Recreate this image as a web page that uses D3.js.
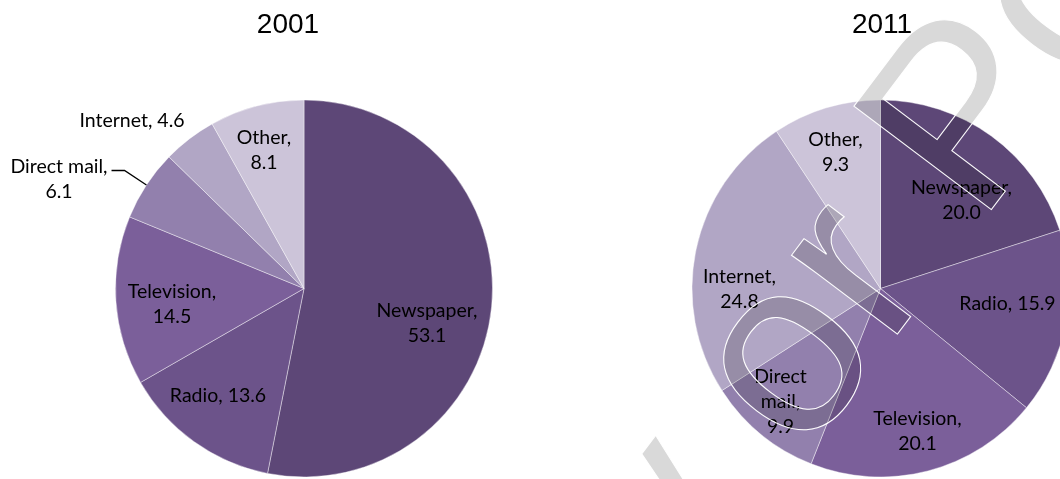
<!DOCTYPE html>
<html>
<head>
<meta charset="utf-8">
<script src="https://cdn.jsdelivr.net/npm/d3@7"></script>
<style>
body { margin: 0; background: #fff; }
svg { display: block; }
.title { font-family: "Liberation Sans", Arial, sans-serif; font-size: 28px; fill: #000; }
.label { font-family: Lato, "Open Sans", sans-serif; font-size: 19.5px; fill: #000; }
.wm { font-family: "Liberation Sans", Arial, sans-serif; font-size: 250px; }
</style>
</head>
<body>
<svg id="chart"></svg>
<script>
var width = 1060;
var height = 479;

// Data
var years = ["2001", "2011"];
var categories = ["Newspaper", "Radio", "Television", "Direct mail", "Internet", "Other"];
var values2001 = [53.1, 13.6, 14.5, 6.1, 4.6, 8.1];
var values2011 = [20.0, 15.9, 20.1, 9.9, 24.8, 9.3];

var colors = ["#5d4777", "#6c538a", "#7b5f9a", "#9280ad", "#b1a6c5", "#ccc4d9"];

// Label layout: number of lines and offset from pie centre
var lines2001 = [2, 1, 2, 2, 1, 2];
var lines2011 = [2, 1, 2, 3, 2, 2];
var offsets2001 = [[123, 34], [-86, 107], [-132, 15], [-245, -110], [-172, -168], [-40, -139]];
var offsets2011 = [[81, -89], [127, 15], [37, 142], [-100, 113], [-141, 0], [-45, -137]];
var leader2001 = [false, false, false, true, false, false];

var RADIUS = 188.5;
var CENTER_Y = 288.5;
var CENTERS_X = [304, 880.5];
var TITLE_X = [288, 882];
var LINE_H = 25;

var svg = d3.select("#chart")
    .attr("width", width)
    .attr("height", height);

var pie = d3.pie().sort(null).value(function(d) { return d; });
var arc = d3.arc().innerRadius(0).outerRadius(RADIUS);
var edgeArc = d3.arc().innerRadius(RADIUS).outerRadius(RADIUS);

function labelLines(name, value, n) {
    var v = value.toFixed(1);
    if (n == 1) return [name + ", " + v];
    if (n == 2) return [name + ",", v];
    var words = name.split(" ");
    words[words.length - 1] += ",";
    return words.concat([v]);
}

function drawPie(i, values, nLines, offsets, leaders) {
    var cx = CENTERS_X[i];

    svg.append("text")
        .attr("class", "title")
        .attr("x", TITLE_X[i])
        .attr("y", 33)
        .attr("text-anchor", "middle")
        .text(years[i]);

    var g = svg.append("g").attr("transform", "translate(" + cx + "," + CENTER_Y + ")");

    var slices = pie(values);

    g.selectAll("path.slice")
        .data(slices)
        .enter().append("path")
        .attr("class", "slice")
        .attr("d", arc)
        .attr("fill", function(d, k) { return colors[k]; })
        .attr("stroke", "rgba(255,255,255,0.55)")
        .attr("stroke-width", 0.75);

    slices.forEach(function(d, k) {
        var lines = labelLines(categories[k], values[k], nLines[k]);
        var ox = offsets[k][0], oy = offsets[k][1];
        var firstBase = oy - (lines.length - 1) * LINE_H / 2 + 6.5;
        var t = g.append("text")
            .attr("class", "label")
            .attr("text-anchor", "middle");
        lines.forEach(function(s, j) {
            t.append("tspan")
                .attr("x", ox)
                .attr("y", firstBase + j * LINE_H)
                .text(s);
        });

        // leader line from outside label to slice edge
        if (leaders && leaders[k]) {
            var w = t.select("tspan").node().getComputedTextLength();
            var x0 = ox + w / 2 + 4;
            var y0 = firstBase - 2;
            var end = edgeArc.centroid(d);
            g.append("path")
                .attr("d", "M" + x0 + "," + y0 + "L" + (x0 + 13) + "," + y0 + "L" + end[0] + "," + end[1])
                .attr("fill", "none")
                .attr("stroke", "#000")
                .attr("stroke-width", 1.3);
        }
    });
}

drawPie(0, values2001, lines2001, offsets2001, leader2001);
drawPie(1, values2011, lines2011, offsets2011, null);

// Watermark across the 2011 pie ("r" of "or" anchored)
var wmText = "Do Not Copy or Post";
var wm = svg.append("g").attr("transform", "translate(887,348) rotate(-53)");
var wmFill = wm.append("text")
    .attr("class", "wm")
    .style("fill", "#d9d9d9")
    .style("mix-blend-mode", "multiply")
    .text(wmText);
var shift = wmFill.node().getSubStringLength(0, 13);
wmFill.attr("x", -shift);
wm.append("text")
    .attr("class", "wm")
    .attr("x", -shift)
    .style("fill", "none")
    .style("stroke", "#fff")
    .style("stroke-width", 1)
    .text(wmText);
</script>
</body>
</html>
